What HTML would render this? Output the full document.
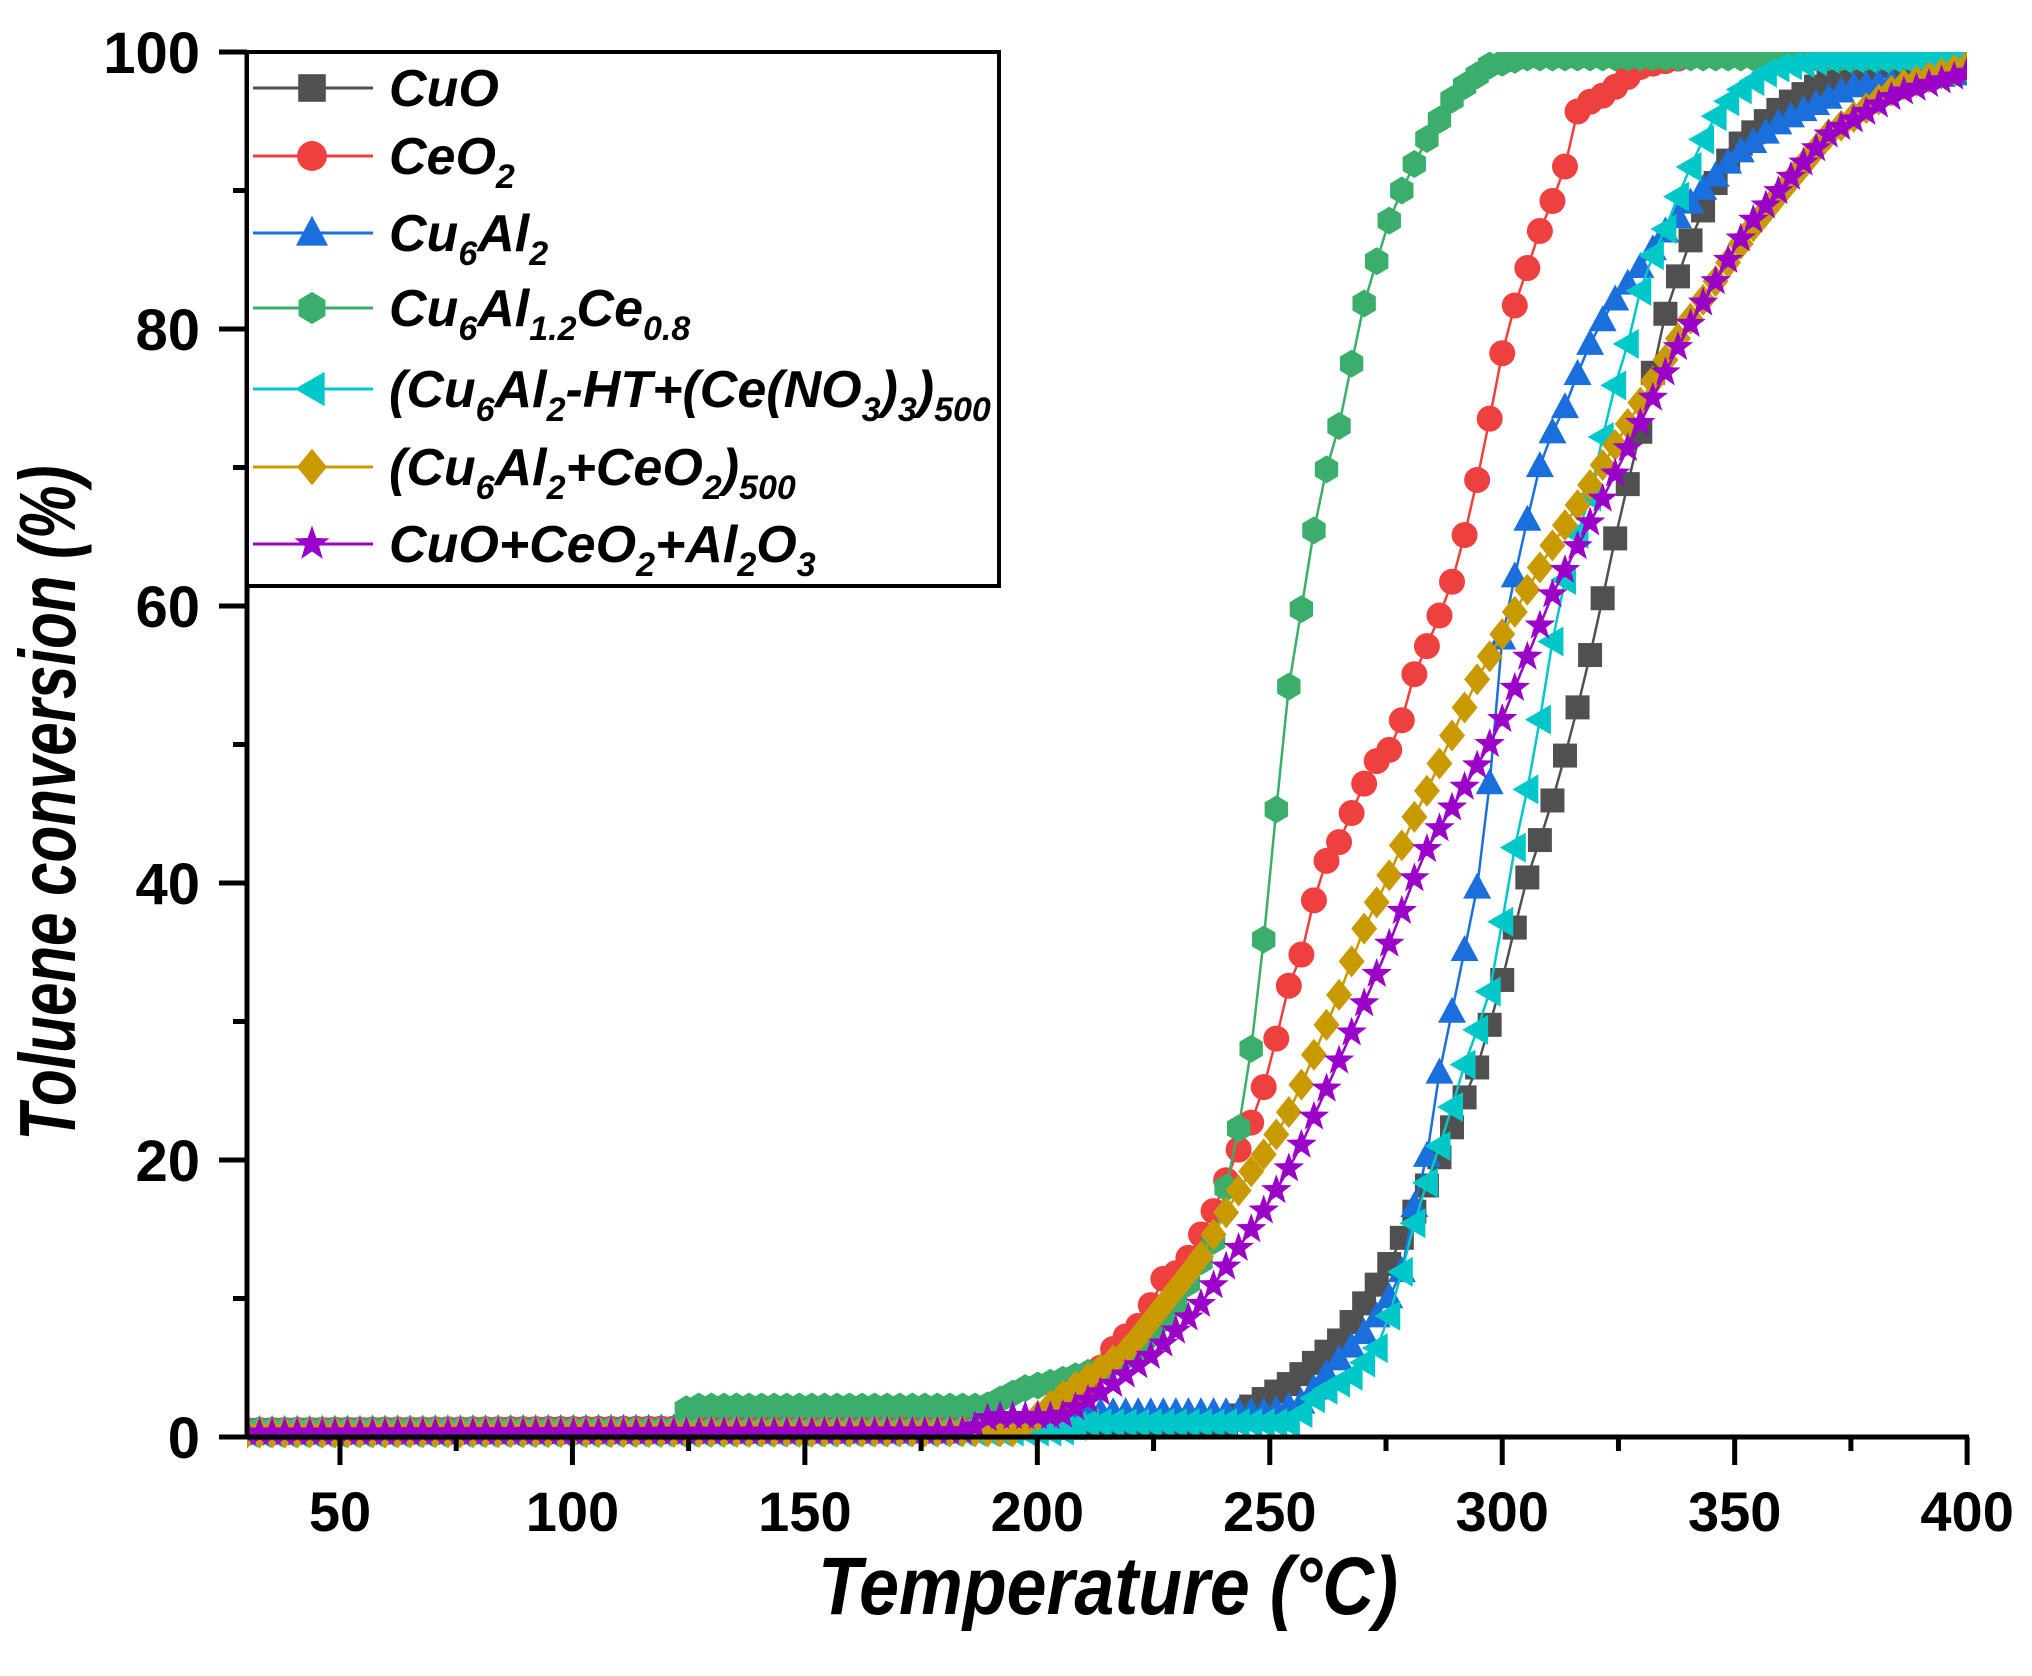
<!DOCTYPE html>
<html><head><meta charset="utf-8"><style>
html,body{margin:0;padding:0;background:#fff}
svg{display:block}
text{font-family:"Liberation Sans",Arial,sans-serif;font-weight:bold}
</style></head><body>
<svg id="s" width="2032" height="1676" xmlns="http://www.w3.org/2000/svg">
<defs><clipPath id="cp"><rect x="247" y="52" width="1720" height="1400"/></clipPath></defs>
<g id="data" clip-path="url(#cp)"></g>
<g id="axes"></g>
</svg>
<script>
const X=t=>247+(t-30)*4.649, Y=v=>1437-v*13.85;
const NS="http://www.w3.org/2000/svg";
function el(tag,attrs,parent){const e=document.createElementNS(NS,tag);for(const k in attrs)e.setAttribute(k,attrs[k]);parent.appendChild(e);return e;}
const series=[
{c:"#505050",m:"sq",k:[[30,0.5],[240,0.7],[245,2],[255,4],[265,7],[275,12],[285,19],[295,27],[300,33],[305,40],[310,45],[315,51],[320,58],[325,66],[330,73],[335,81],[340,86],[345,90],[350,93],[360,96],[370,98],[380,99],[400,99]]},
{c:"#ef4040",m:"ci",k:[[30,0.5],[205,0.7],[217,6.7],[222.7,8.3],[227,11.4],[231,12],[239,17],[241.7,19.6],[246,22.7],[250,26.5],[253.4,32],[257,35],[261,41],[265,43],[268.8,46],[272,48.5],[277,50],[281,55],[285,58],[289,61.5],[293,66.5],[297,73],[301,80],[305,84],[308,87],[313,91],[316.4,96],[322.5,97],[330,99],[345,100],[400,100]]},
{c:"#1a6fdc",m:"tu",k:[[30,0.5],[205,0.7],[210,1.8],[245,1.8],[250,1.8],[257,2.5],[264,5.3],[269.6,7.2],[275,9.6],[279,12.4],[282,18.5],[284.5,21],[286,25.5],[290,32],[296,42],[298,50],[300.3,58.8],[304.4,64.5],[307,69],[310,72],[314,74.7],[317,77.5],[319.8,79.6],[324,82],[328.7,84],[335,87],[342,89.7],[350,92.5],[360,95],[375,97.5],[400,98.5]]},
{c:"#3aae6a",m:"hx",k:[[30,0.5],[123,0.5],[124.7,2.2],[188.8,2.2],[197,3.5],[204,4],[213.9,4.9],[222,6.3],[230.6,10],[234.7,12.4],[239.4,15],[241,19],[243.8,23],[247.3,31],[251,44],[254.5,55.5],[258,62],[260.6,68],[264.9,73],[268.5,79],[270.4,82],[274,86],[276.8,89],[280,91],[282.4,93],[286.3,95],[290,97],[297,99],[305,99.6],[400,99.6]]},
{c:"#00c8c8",m:"tl",k:[[30,0.3],[205,0.4],[210,1],[255,1],[260,3],[268,4.5],[274,6.8],[278,11.4],[282,16.6],[286.3,20.8],[289,23.6],[292,27],[297,31.6],[299.9,37],[302.6,42.4],[306.2,48],[309,53.6],[312,60],[316,65],[320,69],[322.5,74],[326.7,78.5],[331,84.6],[333.7,86],[339,90.6],[345,95],[350,97],[358,98.8],[370,99.5],[400,99.5]]},
{c:"#c99a00",m:"di",k:[[30,0.3],[195,0.4],[200,1.5],[205.5,3],[219.5,6.3],[234.8,12.8],[244.5,18.5],[250,21],[255,24],[260,28],[265,32],[270,36.5],[275,40],[280,44],[285,47.5],[295,55],[311,64.5],[325,72],[339,80],[353,87],[370,94],[385,97.5],[400,99]]},
{c:"#9a00c8",m:"st",k:[[30,0.3],[185,0.4],[190,1.5],[205,1.5],[215,3.5],[225,6],[235,9.5],[240,12],[245,14.5],[250,17],[256,20.5],[262,25],[268,29.5],[275,35],[283,42],[292,47],[299,51],[311,61],[322,68],[339,79.5],[353,87.5],[370,94],[385,97],[400,98.5]]}
];
function interp(k,t){for(let i=1;i<k.length;i++){if(t<=k[i][0]){const a=k[i-1],b=k[i];return a[1]+(b[1]-a[1])*(t-a[0])/(b[0]-a[0]);}}return k[k.length-1][1];}
function marker(g,m,x,y,c,s){
 s=s||1;
 if(m=="sq")el("rect",{x:x-12*s,y:y-12*s,width:24*s,height:24*s,fill:c},g);
 else if(m=="ci")el("circle",{cx:x,cy:y,r:13*s,fill:c},g);
 else if(m=="tu")el("polygon",{points:`${x},${y-15*s} ${x+14*s},${y+11*s} ${x-14*s},${y+11*s}`,fill:c},g);
 else if(m=="tl")el("polygon",{points:`${x-15*s},${y} ${x+11*s},${y-15*s} ${x+11*s},${y+15*s}`,fill:c},g);
 else if(m=="di")el("polygon",{points:`${x},${y-16*s} ${x+13*s},${y} ${x},${y+16*s} ${x-13*s},${y}`,fill:c},g);
 else if(m=="hx"){let p=[];for(let i=0;i<6;i++){const a=Math.PI/3*i+Math.PI/2;p.push((x+13.5*s*Math.cos(a))+","+(y+14*s*Math.sin(a)));}el("polygon",{points:p.join(" "),fill:c},g);}
 else if(m=="st"){let p=[];for(let i=0;i<10;i++){const r=i%2?6.5*s:16*s,a=-Math.PI/2+i*Math.PI/5;p.push((x+r*Math.cos(a))+","+(y+r*Math.sin(a)));}el("polygon",{points:p.join(" "),fill:c},g);}
}
const dg=document.getElementById("data");
for(const s of series){
 let pts=[];for(let t=30;t<=400.01;t+=2.7){pts.push([X(t),Y(interp(s.k,t))]);}
 el("polyline",{points:pts.map(p=>p.join(",")).join(" "),fill:"none",stroke:s.c,"stroke-width":2.5},dg);
 for(const p of pts)marker(dg,s.m,p[0],p[1],s.c);
}
const ag=document.getElementById("axes");
el("line",{x1:247,y1:50,x2:247,y2:1439,stroke:"#000","stroke-width":5},ag);
el("line",{x1:219,y1:1437,x2:1969,y2:1437,stroke:"#000","stroke-width":5},ag);
for(let v=0;v<=100;v+=10){const y=Y(v),maj=v%20==0;el("line",{x1:maj?219:233,y1:y,x2:247,y2:y,stroke:"#000","stroke-width":5},ag);
 if(maj){const t=el("text",{x:200,y:y+21,"font-size":58,"text-anchor":"end"},ag);t.textContent=v;}}
for(let t=50;t<=400;t+=25){const x=X(t),maj=t%50==0;el("line",{x1:x,y1:1437,x2:x,y2:maj?1465:1451,stroke:"#000","stroke-width":5},ag);
 if(maj){const e=el("text",{x:x,y:1531,"font-size":56,"text-anchor":"middle"},ag);e.textContent=t;}}
const xt=el("text",{x:1108,y:1614,"font-size":82,"font-style":"italic","text-anchor":"middle",textLength:580,lengthAdjust:"spacingAndGlyphs"},ag);xt.textContent="Temperature (°C)";
const yt=el("text",{x:0,y:0,"font-size":80,"font-style":"italic","text-anchor":"middle",textLength:675,lengthAdjust:"spacingAndGlyphs",transform:"translate(75,803) rotate(-90)"},ag);yt.textContent="Toluene conversion (%)";
// legend
el("rect",{x:247,y:52,width:752,height:534,fill:"#fff",stroke:"#000","stroke-width":4},ag);
const labels=[
[["CuO",""]],
[["CeO",""],["2","s"]],
[["Cu",""],["6","s"],["Al",""],["2","s"]],
[["Cu",""],["6","s"],["Al",""],["1.2","s"],["Ce",""],["0.8","s"]],
[["(Cu",""],["6","s"],["Al",""],["2","s"],["-HT+(Ce(NO",""],["3","s"],[")",""],["3","s"],[")",""],["500","s"]],
[["(Cu",""],["6","s"],["Al",""],["2","s"],["+CeO",""],["2","s"],[")",""],["500","s"]],
[["CuO+CeO",""],["2","s"],["+Al",""],["2","s"],["O",""],["3","s"]]
];
const rows=[88,156,233,308,389,467,544];
series.forEach((s,i)=>{const y=rows[i];
 el("line",{x1:253,y1:y,x2:373,y2:y,stroke:s.c,"stroke-width":3},ag);
 marker(ag,s.m,312,y,s.c,1.15);
 const t=el("text",{x:389,y:y+18,"font-size":52,"font-style":"italic"},ag);
 for(const [str,typ] of labels[i]){const sp=el("tspan",typ=="s"?{"font-size":34}:{},t);sp.textContent=str;}
 let prevSub=false;for(const sp of t.childNodes){const isSub=sp.getAttribute("font-size")=="34";
  sp.setAttribute("dy",isSub&&!prevSub?14:(!isSub&&prevSub?-14:0));prevSub=isSub;}
});
</script>
</body></html>
